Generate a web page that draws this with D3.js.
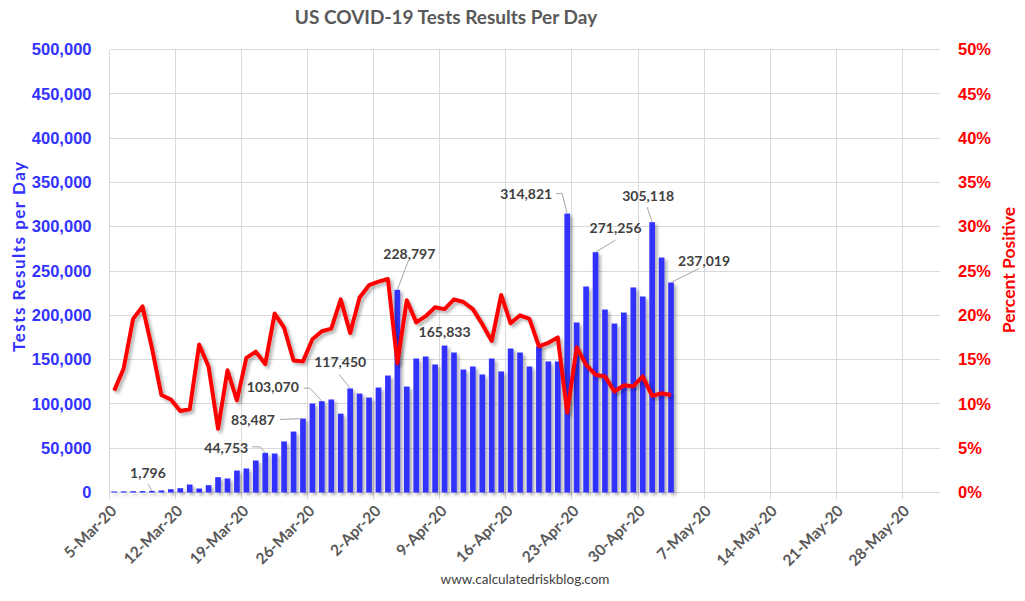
<!DOCTYPE html>
<html>
<head>
<meta charset="utf-8">
<script src="https://cdn.jsdelivr.net/npm/d3@7"></script>
<style>
  body { margin: 0; background: #fff; }
  svg { display: block; font-family: Lato, "Open Sans", sans-serif; }
  .grid line { stroke: #d9d9d9; stroke-width: 1; shape-rendering: crispEdges; }
  .ylab text { font-weight: bold; font-size: 16.5px; }
  .xlab { font-weight: bold; font-size: 15.5px; fill: #595959; }
  .dlab { font-weight: bold; font-size: 14px; fill: #404040; }
</style>
</head>
<body>
<svg width="1025" height="601"></svg>
<script>
// daily data, starting 5-Mar-2020
var startDay = "2020-03-05";

var tests = [
  1200, 1300, 1500, 1600, 1796, 2300, 3700, 4900, 9000, 4500,
  8300, 17300, 15800, 24800, 27100, 36100, 44753, 44000, 57600, 68800,
  83487, 100400, 103070, 105000, 89000, 117450, 111700, 107200, 118500, 132000,
  228797, 119600, 151200, 153500, 144500, 165833, 158000, 138800, 142200, 133200,
  151200, 136600, 162500, 158000, 142200, 165000, 147900, 147900, 314821, 191900,
  232500, 271256, 206500, 190700, 203100, 231400, 221200, 305118, 265200, 237019
];

var pctPositive = [
  11.5, 14.0, 19.6, 21.0, 16.3, 11.0, 10.5, 9.2, 9.4, 16.7,
  14.2, 7.2, 13.8, 10.4, 15.2, 15.9, 14.5, 20.2, 18.6, 14.9,
  14.8, 17.3, 18.2, 18.5, 21.8, 18.0, 22.0, 23.4, 23.8, 24.1,
  14.6, 21.7, 19.2, 19.9, 20.9, 20.7, 21.8, 21.5, 20.7, 19.0,
  17.1, 22.3, 19.1, 20.0, 19.6, 16.5, 16.9, 17.5, 9.0, 16.4,
  14.4, 13.3, 13.1, 11.4, 12.1, 12.0, 13.1, 10.9, 11.2, 11.0
];

var weekTicks = ["2020-03-05", "2020-03-12", "2020-03-19", "2020-03-26", "2020-04-02",
  "2020-04-09", "2020-04-16", "2020-04-23", "2020-04-30", "2020-05-07",
  "2020-05-14", "2020-05-21", "2020-05-28"];
var axisEnd = "2020-06-01";

var leftTicks = [0, 50000, 100000, 150000, 200000, 250000, 300000, 350000, 400000, 450000, 500000];
var rightTicks = [0, 5, 10, 15, 20, 25, 30, 35, 40, 45, 50];

// days that carry a value label
var labelled = [4, 16, 20, 22, 25, 30, 35, 48, 51, 57, 59];

var parse = d3.utcParse("%Y-%m-%d");
var day0 = parse(startDay);
var days = tests.map(function(d, i) { return d3.utcDay.offset(day0, i); });

var svg = d3.select("svg");
var blue = "#3333ff", red = "#ff0000";

var x = d3.scaleUtc()
    .domain([day0, parse(axisEnd)])
    .range([109.5, 940]);
var dayW = x(d3.utcDay.offset(day0, 1)) - x(day0);

var y = d3.scaleLinear().domain([0, 500000]).range([492.5, 49.5]);
var y2 = d3.scaleLinear().domain([0, 50]).range([492.5, 49.5]);

var defs = svg.append("defs");
var f = defs.append("filter").attr("id", "shadow")
    .attr("x", "-20%").attr("y", "-20%").attr("width", "160%").attr("height", "160%");
f.append("feDropShadow")
    .attr("dx", 2.5).attr("dy", 2.5).attr("stdDeviation", 1.6)
    .attr("flood-color", "#000").attr("flood-opacity", 0.3);

// gridlines
var grid = svg.append("g").attr("class", "grid");
grid.selectAll(".h").data(leftTicks).enter().append("line")
    .attr("x1", 109.5).attr("x2", 940)
    .attr("y1", function(d) { return y(d); })
    .attr("y2", function(d) { return y(d); });
grid.selectAll(".v").data(weekTicks).enter().append("line")
    .attr("x1", function(d) { return x(parse(d)); })
    .attr("x2", function(d) { return x(parse(d)); })
    .attr("y1", 49.5).attr("y2", 499);

// left axis
var ax = svg.append("g").attr("class", "ylab")
    .attr("transform", "translate(109.5,0)")
    .call(d3.axisLeft(y).tickValues(leftTicks).tickSize(0).tickPadding(18).tickFormat(d3.format(",")));
ax.select(".domain").remove();
ax.selectAll("text").attr("fill", blue);

// right axis
var ax2 = svg.append("g").attr("class", "ylab")
    .attr("transform", "translate(940,0)")
    .call(d3.axisRight(y2).tickValues(rightTicks).tickSize(0).tickPadding(18).tickFormat(function(d) { return d + "%"; }));
ax2.select(".domain").remove();
ax2.selectAll("text").attr("fill", red);

// x labels
var fmt = d3.utcFormat("%-d-%b-%y");
svg.append("g").selectAll("text").data(weekTicks).enter().append("text")
    .attr("class", "xlab")
    .attr("text-anchor", "end")
    .attr("transform", function(d) { return "translate(" + (x(parse(d)) + 8) + ",512) rotate(-45)"; })
    .text(function(d) { return fmt(parse(d)); });

// bars
var bw = dayW * 0.6;
svg.append("g").attr("filter", "url(#shadow)")
  .selectAll("rect").data(tests).enter().append("rect")
    .attr("x", function(d, i) { return x(days[i]) + dayW / 2 - bw / 2; })
    .attr("y", function(d) { return y(d); })
    .attr("width", bw)
    .attr("height", function(d) { return y(0) - y(d); })
    .attr("fill", blue);

// percent positive line
var line = d3.line()
    .x(function(d, i) { return x(days[i]) + dayW / 2; })
    .y(function(d) { return y2(d); });

svg.append("path")
    .datum(pctPositive)
    .attr("d", line)
    .attr("fill", "none")
    .attr("stroke", red)
    .attr("stroke-width", 4)
    .attr("stroke-linejoin", "round")
    .attr("filter", "url(#shadow)");

// value labels: text offset from bar top, anchor, leader start
var labelPos = {
  4:  {dx: -4,  dy: -13, a: "middle", l: [-4, -7]},
  16: {dx: -17, dy: 0,   a: "end",    l: [[-13, -6], [-5, -6]]},
  20: {dx: -28, dy: 6,   a: "end",    l: [-23, 1]},
  22: {dx: -23, dy: -9,  a: "end",    l: [[-18, -13], [-12, -13]]},
  25: {dx: -10, dy: -21, a: "middle", l: [-11, -14]},
  30: {dx: 12,  dy: -31, a: "middle", l: [11, -29]},
  35: {dx: 0,   dy: -9,  a: "middle", l: null},
  48: {dx: -15, dy: -15, a: "end",    l: [[-11, -20], [-5, -20]]},
  51: {dx: 20,  dy: -19, a: "middle", l: [20, -12]},
  57: {dx: -4,  dy: -21, a: "middle", l: [-5, -15]},
  59: {dx: 7,   dy: -17, a: "start",  l: [28, -14]}
};

var lab = svg.append("g");
labelled.forEach(function(i) {
  var p = labelPos[i];
  var bx = x(days[i]) + dayW / 2, by = y(tests[i]);
  if (p.l) {
    var pts = Array.isArray(p.l[0]) ? p.l : [p.l];
    var pathPts = pts.map(function(q) { return [bx + q[0], by + q[1]]; });
    pathPts.push([bx, by]);
    lab.append("path")
        .attr("d", d3.line()(pathPts))
        .attr("fill", "none")
        .attr("stroke", "#a6a6a6")
        .attr("stroke-width", 1);
  }
  lab.append("text")
      .attr("class", "dlab")
      .attr("x", bx + p.dx)
      .attr("y", by + p.dy)
      .attr("text-anchor", p.a)
      .text(d3.format(",")(tests[i]));
});

// titles
svg.append("text")
    .attr("x", 446).attr("y", 24)
    .attr("text-anchor", "middle")
    .attr("fill", "#595959")
    .style("font-weight", "bold").style("font-size", "19px")
    .text("US COVID-19 Tests Results Per Day");

svg.append("text")
    .attr("transform", "translate(25,257) rotate(-90)")
    .attr("text-anchor", "middle")
    .attr("fill", blue)
    .style("font-weight", "bold").style("font-size", "17px")
    .attr("textLength", 190)
    .attr("lengthAdjust", "spacing")
    .text("Tests Results per Day");

svg.append("text")
    .attr("transform", "translate(1015,270) rotate(-90)")
    .attr("text-anchor", "middle")
    .attr("fill", red)
    .style("font-weight", "bold").style("font-size", "17.5px")
    .text("Percent Positive");

svg.append("text")
    .attr("x", 525).attr("y", 584)
    .attr("text-anchor", "middle")
    .attr("fill", "#404040")
    .style("font-size", "13.5px")
    .text("www.calculatedriskblog.com");
</script>
</body>
</html>
